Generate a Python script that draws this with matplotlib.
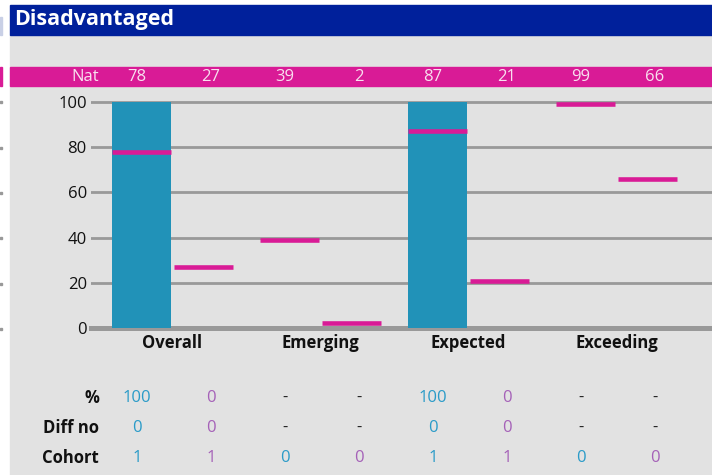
import matplotlib.pyplot as plt
from matplotlib.patches import Rectangle

plt.rcParams['font.family'] = ['Open Sans', 'DejaVu Sans']

# data
groups = ['Overall', 'Emerging', 'Expected', 'Exceeding']
bar_values = [100, 0, 0, 0, 100, 0, 0, 0]      # school %, two slots per group
nat_values = [78, 27, 39, 2, 87, 21, 99, 66]    # national benchmark
pct_row = ['100', '0', '-', '-', '100', '0', '-', '-']
diff_row = ['0', '0', '-', '-', '0', '0', '-', '-']
cohort_row = ['1', '1', '0', '0', '1', '1', '0', '0']
yticks = [0, 20, 40, 60, 80, 100]

W, H = 712, 475
BLUE = '#2192b8'
MAGENTA = '#d91b96'
TXT_BLUE = '#2a9bc8'
TXT_PURPLE = '#a561b8'


def fx(x):
    return x / W


def fy(y):
    return 1 - y / H


def band(x, y, w, h, color):
    fig.patches.append(Rectangle((fx(x), fy(y + h)), w / W, h / H, transform=fig.transFigure,
                                 color=color, zorder=-5))


fig = plt.figure(figsize=(W / 100, H / 100), dpi=100)
fig.patch.set_facecolor('white')

# panel background, title bar, nat band
band(10, 35, 702, 440, '#e2e2e2')
band(10, 5, 702, 30, '#00209b')
band(10, 67, 702, 19, MAGENTA)
# bits of the neighbouring panel on the far left
band(0, 67, 2, 19, MAGENTA)
band(0, 17, 2, 18, '#c9d0e6')
for yy in [102, 148, 193, 238, 284, 329]:
    band(0, yy - 1, 2, 2, '#999999')

fig.text(fx(14), fy(19), 'Disadvantaged', color='white', fontsize=15.5,
         fontweight='bold', ha='left', va='center')

# axes: left edge at px 91, right 712; y=0 at px 328, 100 at px 102
ymax = 103
px_per = 226 / 100
ax = fig.add_axes([fx(91), fy(328), 1 - fx(91), ymax * px_per / H])
ax.set_facecolor('none')
ax.set_zorder(2)

grp_pitch = 148
half = 31 / grp_pitch
bw = 59 / grp_pitch
xs = []
for g in range(len(groups)):
    xs += [g - half, g + half]

ax.bar(xs, bar_values, width=bw, color=BLUE, zorder=3)
ax.hlines(nat_values, [x - bw / 2 for x in xs], [x + bw / 2 for x in xs],
          color=MAGENTA, lw=3.3, zorder=4)

ax.set_xlim(-(172.5 - 91) / grp_pitch, (712 - 172.5) / grp_pitch)
ax.set_ylim(0, ymax)
ax.set_yticks(yticks)
ax.set_yticklabels([str(t) for t in yticks], fontsize=12, color='#111111')
ax.tick_params(axis='y', length=0, pad=3)
ax.set_xticks([])
for s in ax.spines.values():
    s.set_visible(False)
ax.yaxis.grid(True, color='#999999', lw=2.0, zorder=1)
ax.set_axisbelow(True)
ax.axhline(0, color='#999999', lw=3.6, zorder=2, clip_on=False)

# group labels
for g, name in enumerate(groups):
    fig.text(fx(172.5 + g * grp_pitch), fy(343), name, fontsize=12, fontweight='bold',
             color='#111111', ha='center', va='center')

# nat band row
col_x = [137 + 74 * i for i in range(8)]
fig.text(fx(99), fy(77), 'Nat', fontsize=12, color='#f8e0ef', ha='right', va='center')
for cx, v in zip(col_x, nat_values):
    fig.text(fx(cx), fy(77), str(v), fontsize=12, color='#f8e0ef', ha='center', va='center')

# bottom table
rows = [('%', pct_row, 398), ('Diff no', diff_row, 428), ('Cohort', cohort_row, 458)]
for label, vals, yy in rows:
    fig.text(fx(99), fy(yy), label, fontsize=12, fontweight='bold', color='#111111',
             ha='right', va='center')
    for i, (cx, v) in enumerate(zip(col_x, vals)):
        if v == '-':
            col = '#222222'
        else:
            col = TXT_BLUE if i % 2 == 0 else TXT_PURPLE
        fig.text(fx(cx), fy(yy), v, fontsize=12, color=col, ha='center', va='center')

fig.savefig('out.png', dpi=100)
